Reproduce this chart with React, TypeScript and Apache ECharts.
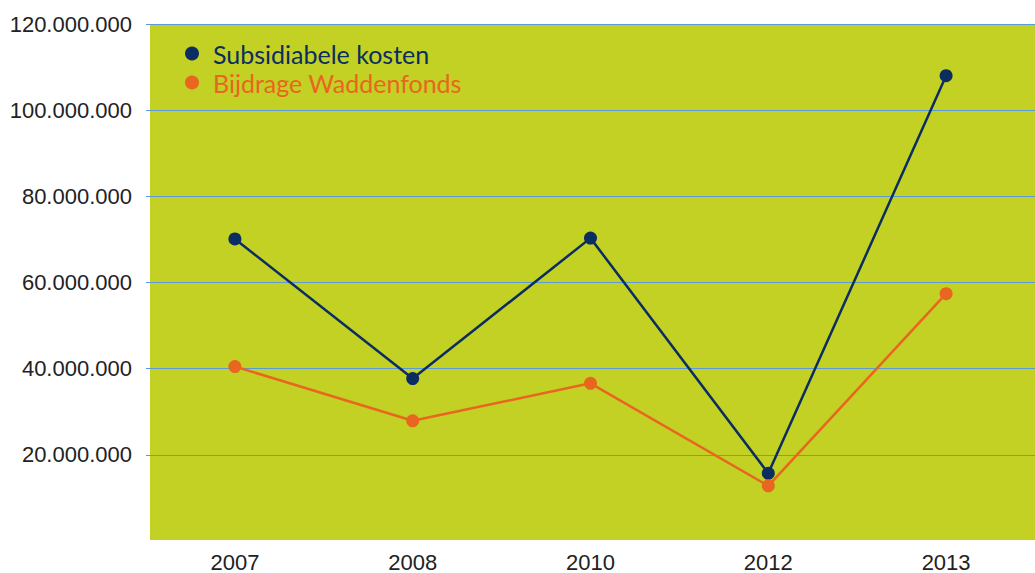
import React, { useEffect, useRef } from "react";
import * as echarts from "echarts";

const years = ["2007", "2008", "2010", "2012", "2013"];
const subsidiabeleKosten = [70100000, 37700000, 70300000, 15700000, 108000000];
const bijdrageWaddenfonds = [40500000, 27900000, 36600000, 12800000, 57400000];
const yTicks = [0, 20000000, 40000000, 60000000, 80000000, 100000000, 120000000];

const NAVY = "#0b2d62";
const ORANGE = "#e8661f";
const GREEN = "#c3d024";
const GRID_BLUE = "#5a9ad6";

function fmt(v: number): string {
  if (v === 0) return "";
  return String(v).replace(/\B(?=(\d{3})+(?!\d))/g, ".");
}

export default function App() {
  const ref = useRef<HTMLDivElement>(null);
  useEffect(() => {
    document.body.style.margin = "0";
    const chart = echarts.init(ref.current!, null, { renderer: "svg" });
    chart.setOption({
      animation: false,
      backgroundColor: "#ffffff",
      grid: {
        left: 146,
        right: 0,
        top: 24,
        bottom: 32,
        show: false,
      },
      graphic: {
        z: -10,
        elements: [
          {
            type: "rect",
            z: -10,
            silent: true,
            shape: { x: 150, y: 24, width: 885, height: 516 },
            style: { fill: GREEN },
          },
        ],
      },
      legend: {
        orient: "vertical",
        left: 180,
        top: 36,
        itemGap: 4,
        itemWidth: 14,
        itemHeight: 14,
        icon: "circle",
        textStyle: { fontFamily: "Lato", fontSize: 25, padding: [0, 0, 0, 9] },
        data: [
          { name: "Subsidiabele kosten", textStyle: { color: NAVY } },
          { name: "Bijdrage Waddenfonds", textStyle: { color: ORANGE } },
        ],
      },
      xAxis: {
        type: "category",
        data: years,
        boundaryGap: true,
        axisLine: { show: false },
        axisTick: { show: false },
        axisLabel: {
          color: "#222",
          fontFamily: "Liberation Sans",
          fontSize: 22,
          margin: 10,
        },
      },
      yAxis: {
        type: "value",
        min: yTicks[0],
        max: yTicks[yTicks.length - 1],
        interval: 20000000,
        axisLine: { show: false },
        axisTick: { show: false },
        splitLine: {
          show: true,
          showMinLine: false,
          lineStyle: { color: GRID_BLUE, width: 1 },
        },
        axisLabel: {
          color: "#222",
          fontFamily: "Liberation Sans",
          fontSize: 22,
          margin: 14,
          formatter: (v: number) => fmt(v),
        },
      },
      series: [
        {
          name: "Subsidiabele kosten",
          type: "line",
          data: subsidiabeleKosten,
          symbol: "circle",
          symbolSize: 13,
          itemStyle: { color: NAVY },
          lineStyle: { color: NAVY, width: 2.5 },
        },
        {
          name: "Bijdrage Waddenfonds",
          type: "line",
          data: bijdrageWaddenfonds,
          symbol: "circle",
          symbolSize: 13,
          itemStyle: { color: ORANGE },
          lineStyle: { color: ORANGE, width: 2.5 },
        },
      ],
    });
    return () => chart.dispose();
  }, []);
  return <div ref={ref} style={{ width: 1035, height: 573 }} />;
}
